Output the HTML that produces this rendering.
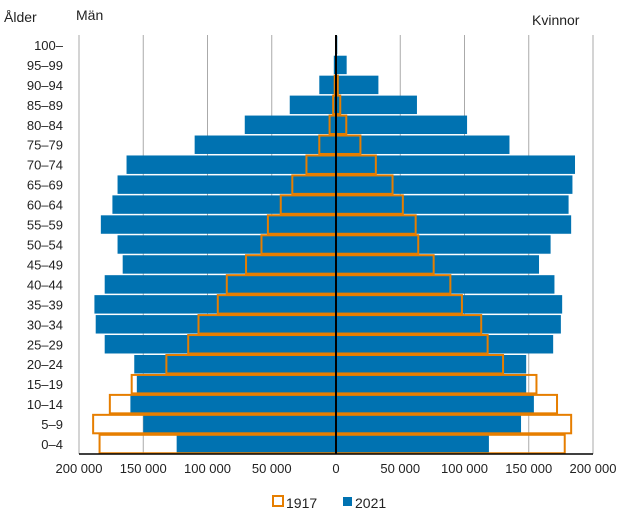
<!DOCTYPE html>
<html><head><meta charset="utf-8"><style>
body{margin:0;background:#fff;font-family:"Liberation Sans",Arial,sans-serif;}
svg text{font-family:"Liberation Sans",Arial,sans-serif;fill:#222;}
</style></head><body>
<svg id="chart" width="633" height="520" xmlns="http://www.w3.org/2000/svg">
<text x="4" y="22" font-size="14">Ålder</text>
<text x="76" y="20" font-size="14">Män</text>
<text x="532" y="25" font-size="14">Kvinnor</text>
<g id="grid"></g><g id="bars"></g><g id="axes"></g>
<g>
<rect x="273" y="496" width="10" height="10" fill="none" stroke="#E67E00" stroke-width="2"/>
<text x="286" y="508" font-size="14">1917</text>
<rect x="343" y="497" width="9" height="9" fill="#0072B1"/>
<text x="355" y="508" font-size="14">2021</text>
</g>
</svg>
<script>
const ageGroups=["0–4","5–9","10–14","15–19","20–24","25–29","30–34","35–39","40–44","45–49","50–54","55–59","60–64","65–69","70–74","75–79","80–84","85–89","90–94","95–99","100–"];
const men2021=[124000,150000,160000,155000,157000,180000,187000,188000,180000,166000,170000,183000,174000,170000,163000,110000,71000,36000,13000,1700,500];
const women2021=[119000,144000,154000,148000,148000,169000,175000,176000,170000,158000,167000,183000,181000,184000,186000,135000,102000,63000,33000,8300,1000];
const men1917=[184000,189000,176000,159000,132000,115000,107000,92000,85000,70000,58000,53000,43000,34000,23000,13000,5000,2200,1000,0,0];
const women1917=[178000,183000,172000,156000,130000,118000,113000,98000,89000,76000,64000,62000,52000,44000,31000,19000,8000,3300,1400,0,0];
const xTicks=[-200000,-150000,-100000,-50000,0,50000,100000,150000,200000];
const NS="http://www.w3.org/2000/svg";
const x0=336,xScale=257/200000,plotTop=35,plotBottom=454,band=(plotBottom-plotTop)/ageGroups.length;
const xPos=v=>x0+v*xScale;
const yCenter=i=>plotBottom-band*(i+0.5);
function mk(tag,attrs,parent){const e=document.createElementNS(NS,tag);for(const k in attrs)e.setAttribute(k,attrs[k]);parent.appendChild(e);return e;}
const grid=document.getElementById('grid'),bars=document.getElementById('bars'),axes=document.getElementById('axes');
xTicks.forEach(t=>{
 if(t!==0){const l=mk('line',{x1:xPos(t),x2:xPos(t),y1:plotTop,y2:plotBottom,stroke:'#AAAAAA','stroke-width':1},grid);
 
 }
 const tx=mk('text',{x:xPos(t),y:plotBottom+19,'font-size':13,'text-anchor':'middle'},axes);
 tx.textContent=Math.abs(t).toString().replace(/\B(?=(\d{3})+(?!\d))/g,' ');
 
 
});
const bh=band-1.5;
ageGroups.forEach((g,i)=>{
 const yc=yCenter(i);
 const m=mk('rect',{x:xPos(-men2021[i]),y:yc-bh/2,width:men2021[i]*xScale,height:bh,fill:'#0072B1'},bars);
 
 
 const w=mk('rect',{x:x0,y:yc-bh/2,width:women2021[i]*xScale,height:bh,fill:'#0072B1'},bars);
 
 
 const lab=mk('text',{x:63,y:yc+5,'font-size':13,'text-anchor':'end'},axes);
 lab.textContent=g;
 
 
});
ageGroups.forEach((g,i)=>{
 const yc=yCenter(i);
 if(men1917[i]>0){const m=mk('rect',{x:xPos(-men1917[i]),y:yc-bh/2,width:men1917[i]*xScale,height:bh,fill:'none',stroke:'#E67E00','stroke-width':2},bars);
 
 }
 if(women1917[i]>0){const w=mk('rect',{x:x0,y:yc-bh/2,width:women1917[i]*xScale,height:bh,fill:'none',stroke:'#E67E00','stroke-width':2},bars);
 
 }
});
const c=mk('line',{x1:x0,x2:x0,y1:plotTop,y2:plotBottom,stroke:'#000','stroke-width':2},axes);


const b=mk('line',{x1:xPos(-200000),x2:xPos(200000),y1:plotBottom,y2:plotBottom,stroke:'#000','stroke-width':1.5},axes);


</script>
</body></html>
